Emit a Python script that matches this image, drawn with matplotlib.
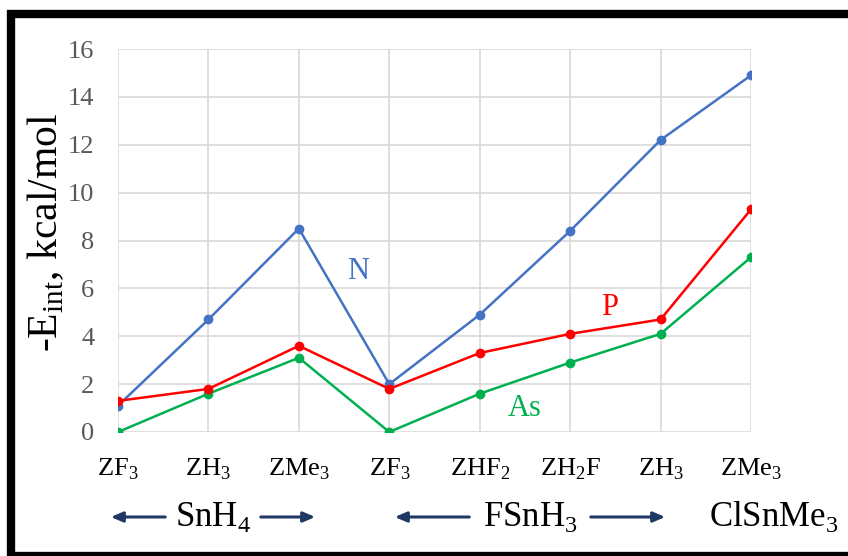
import matplotlib.pyplot as plt
from matplotlib.patches import Rectangle

plt.rcParams['font.family'] = ['Liberation Serif', 'DejaVu Serif']
plt.rcParams['mathtext.fontset'] = 'custom'
plt.rcParams['mathtext.rm'] = 'Liberation Serif'

categories = ['ZF$_3$', 'ZH$_3$', 'ZMe$_3$', 'ZF$_3$', 'ZHF$_2$', 'ZH$_2$F', 'ZH$_3$', 'ZMe$_3$']
n_vals = [1.1, 4.7, 8.5, 2.0, 4.9, 8.4, 12.2, 14.9]
p_vals = [1.3, 1.8, 3.6, 1.8, 3.3, 4.1, 4.7, 9.3]
as_vals = [0.0, 1.6, 3.1, 0.0, 1.6, 2.9, 4.1, 7.3]
yticks = [0, 2, 4, 6, 8, 10, 12, 14, 16]

W, H = 848, 556
fig = plt.figure(figsize=(W / 100, H / 100), dpi=100)
ax = fig.add_axes([118 / W, 1 - 432 / H, (751 - 118) / W, (432 - 49) / H])

x = list(range(len(categories)))
ax.plot(x, n_vals, color='#4472C4', lw=1.8, marker='o', ms=6, zorder=3)
ax.plot(x, p_vals, color='#FF0000', lw=1.8, marker='o', ms=6, zorder=4)
ax.plot(x, as_vals, color='#00B050', lw=1.8, marker='o', ms=6, zorder=3)

ax.text(2.65, 6.7, 'N', color='#4472C4', fontsize=22, ha='center', va='center')
ax.text(5.44, 5.2, 'P', color='#FF0000', fontsize=22, ha='center', va='center')
ax.text(4.5, 1.0, 'As', color='#00B050', fontsize=22, ha='center', va='center')

ax.set_xlim(0, len(categories) - 1)
ax.set_ylim(0, 16)
ax.set_yticks(yticks)
ax.set_xticks(x)
ax.set_xticklabels(categories)
ax.grid(True, color='#D9D9D9', lw=1.2)
ax.set_axisbelow(True)
for s in ax.spines.values():
    s.set_visible(False)
ax.tick_params(axis='y', length=0, pad=17, labelsize=19, labelcolor='#595959')
ax.tick_params(axis='x', length=0, pad=18, labelsize=19, labelcolor='black')
ax.set_ylabel('-E$_{\\mathregular{int}}$, kcal/mol', fontsize=30, va='center')
ax.yaxis.set_label_coords(-0.114, 0.52)

# group captions under the category labels
def px(xp, yp):
    return xp / W, 1 - yp / H

arrow_kw = dict(arrowstyle='-|>,head_length=0.7,head_width=0.3', color='#1F3864', lw=2.2)
for x0, x1 in [(168, 108), (258, 318), (472, 392), (588, 668)]:
    fig.add_artist(plt.Annotation('', xy=px(x1, 517), xytext=px(x0, 517),
                                  xycoords='figure fraction', textcoords='figure fraction',
                                  arrowprops=arrow_kw))
for label, xp in [('SnH$_4$', 213), ('FSnH$_3$', 530), ('ClSnMe$_3$', 774)]:
    fig.text(*px(xp, 517), label, fontsize=25, ha='center', va='center')

# black frame
fig.patches.append(Rectangle((11 / W, 1 - 556 / H), 1.0, (556 - 14) / H,
                             transform=fig.transFigure, fill=False,
                             edgecolor='black', lw=6))

fig.savefig('out.png', dpi=100)
